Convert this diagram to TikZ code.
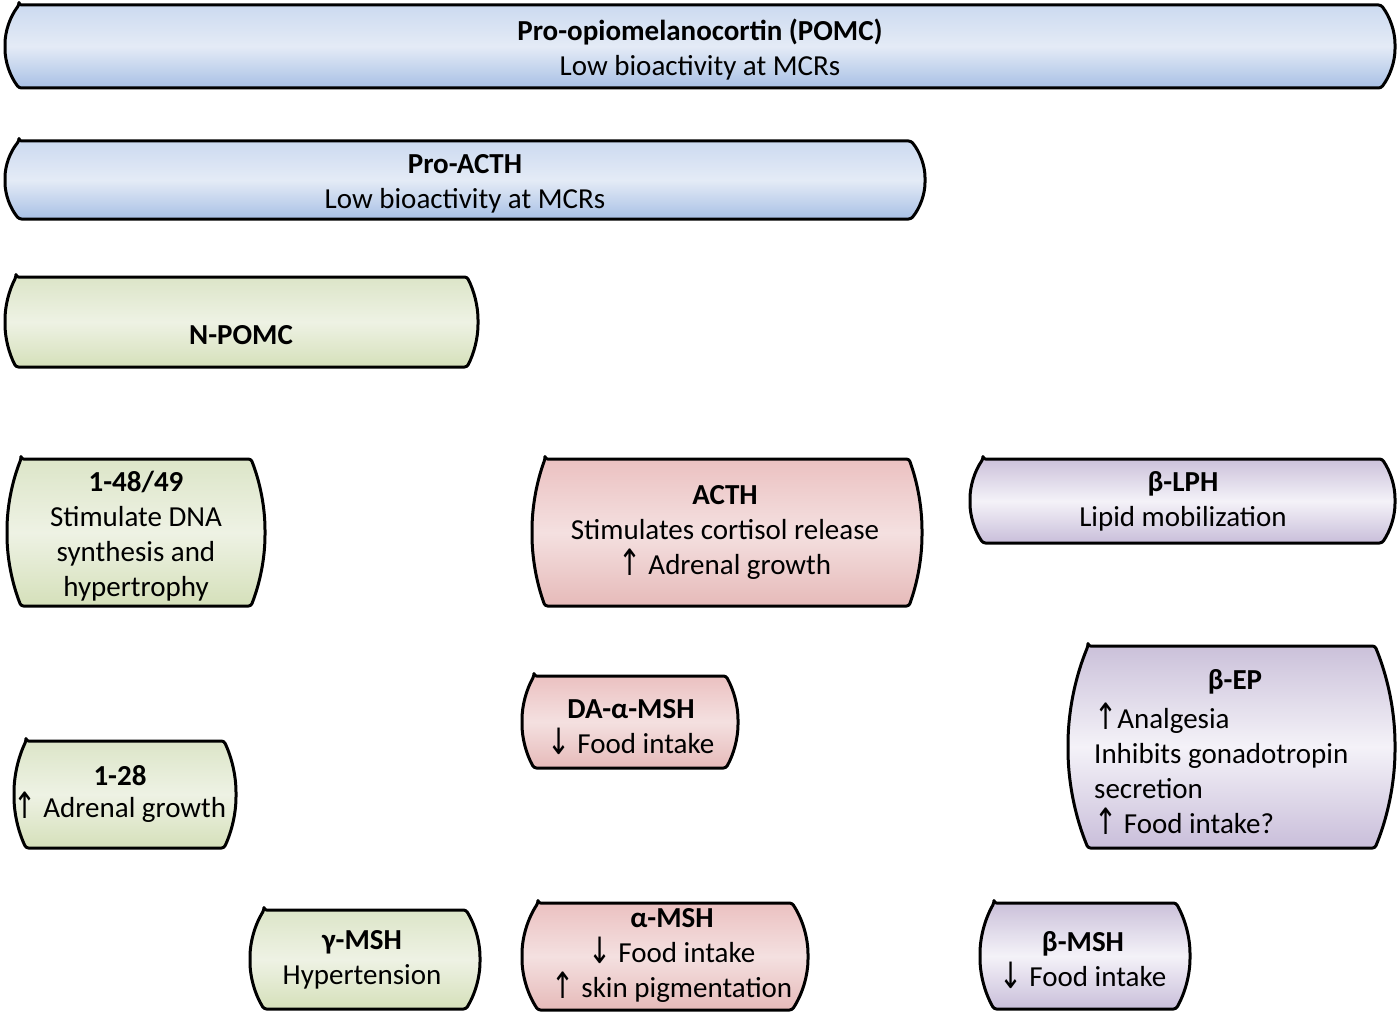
\documentclass[tikz,border=0pt]{standalone}
\usepackage{fontspec}
\setmainfont{Carlito}
\newfontfamily\arrfont{DejaVu Sans}
\definecolor{bluetop}{HTML}{CCDAF0}
\definecolor{bluemid}{HTML}{E4EBF6}
\definecolor{bluebot}{HTML}{A8C0E5}
\definecolor{greentop}{HTML}{DCE5C8}
\definecolor{greenmid}{HTML}{EEF2E4}
\definecolor{greenbot}{HTML}{D5E0BA}
\definecolor{pinktop}{HTML}{EBC1C1}
\definecolor{pinkmid}{HTML}{F4E0E0}
\definecolor{pinkbot}{HTML}{E6BAB9}
\definecolor{purptop}{HTML}{CBC1DA}
\definecolor{purpmid}{HTML}{F4F2F8}
\definecolor{purpbot}{HTML}{C9BEDA}
\newcommand\myup{\raisebox{-0.05em}{\scalebox{0.95}[1.25]{\arrfont ↑}}}
\newcommand\mydown{\raisebox{-0.05em}{\scalebox{0.95}[1.25]{\arrfont ↓}}}
\newcommand\cbox[7]{%
  \pgfmathsetmacro\hh{(#5-#3)/2}%
  \pgfmathsetmacro\bb{#7}%
  \pgfmathsetmacro\rr{(\hh*\hh+\bb*\bb)/(2*\bb)}%
  \pgfmathsetmacro\th{asin(\hh/\rr)}%
  \pgfmathsetmacro\kk{4/3*tan(\th/4)*\rr}%
  \pgfmathsetmacro\dx{\kk*sin(\th)}%
  \pgfmathsetmacro\dy{\kk*cos(\th)}%
  \pgfmathsetmacro\ym{(#3+#5)/2}%
  \path[boxline,#6]
    (#2+\bb,#3) -- (#4-\bb,#3)
    .. controls (#4-\bb+\dx,#3+\dy) and (#4,\ym-\kk) .. (#4,\ym)
    .. controls (#4,\ym+\kk) and (#4-\bb+\dx,#5-\dy) .. (#4-\bb,#5)
    -- (#2+\bb,#5)
    .. controls (#2+\bb-\dx,#5-\dy) and (#2,\ym+\kk) .. (#2,\ym)
    .. controls (#2,\ym-\kk) and (#2+\bb-\dx,#3+\dy) .. cycle;
  \coordinate (#1) at ({(#2+#4)/2},\ym);
}
\tikzset{
  boxline/.style={draw=black, line width=3pt, line join=round, rounded corners=2.5pt},
  bluefill/.style={top color=bluetop, bottom color=bluebot, middle color=bluemid},
  greenfill/.style={top color=greentop, bottom color=greenbot, middle color=greenmid},
  pinkfill/.style={top color=pinktop, bottom color=pinkbot, middle color=pinkmid},
  purpfill/.style={top color=purptop, bottom color=purpbot, middle color=purpmid},
  txt/.style={align=center, inner sep=0pt, font=\fontsize{29}{35}\selectfont},
  txtl/.style={align=left, inner sep=0pt, font=\fontsize{29}{35}\selectfont},
}
\begin{document}
\begin{tikzpicture}[x=1pt,y=-1pt]
\useasboundingbox (0,0) rectangle (1397,1014);
\cbox{pomcbox}{5}{5}{1395}{88}{bluefill}{14}
\cbox{proacthbox}{5}{141}{925}{219}{bluefill}{14}
\cbox{npomcbox}{5}{277}{478}{367}{greenfill}{11}
\cbox{b48box}{7}{459}{265}{606}{greenfill}{14}
\cbox{acthbox}{532}{459}{922}{606}{pinkfill}{13}
\cbox{lphbox}{970}{459}{1395}{543}{purpfill}{13}
\cbox{epbox}{1068}{646}{1395}{848}{purpfill}{20}
\cbox{dabox}{522}{676}{738}{768}{pinkfill}{12}
\cbox{b28box}{14}{741}{236}{848}{greenfill}{12}
\cbox{gmshbox}{250}{910}{480}{1009}{greenfill}{14}
\cbox{amshbox}{522}{903}{808}{1010}{pinkfill}{16}
\cbox{bmshbox}{980}{903}{1190}{1009}{purpfill}{14}

\node[txt] (pomc) at (700,50) {\textbf{Pro-opiomelanocortin (POMC)}\\Low bioactivity at MCRs};
\node[txt] (proacth) at (465,184) {\textbf{Pro-ACTH}\\Low bioactivity at MCRs};
\node[txt] (npomc) at (241,335) {\textbf{N-POMC}};
\node[txt] (b48) at (136,536) {\textbf{1-48/49}\\Stimulate DNA\\synthesis and\\hypertrophy};
\node[txt] (acth) at (725,532) {\textbf{ACTH}\\Stimulates cortisol release\\\myup{} Adrenal growth};
\node[txt] (lph) at (1183,501) {\textbf{β-LPH}\\Lipid mobilization};
\node[txt] (ephead) at (1235,682) {\textbf{β-EP}};
\node[txtl, anchor=west] (eptext) at (1094,769) {\myup Analgesia\\Inhibits gonadotropin\\secretion\\\myup{} Food intake?};
\node[txt] (da) at (631,727) {\textbf{DA-α-MSH}\\\mydown{} Food intake};
\node[txt, font=\fontsize{29}{32}\selectfont] (b28) at (120,794) {\textbf{1-28}\\\myup{} Adrenal growth};
\node[txt] (gmsh) at (362,960) {\textbf{γ-MSH}\\Hypertension};
\node[txt] (amsh) at (672,955) {\textbf{α-MSH}\\\mydown{} Food intake\\\myup{} skin pigmentation};
\node[txt] (bmsh) at (1083,960) {\textbf{β-MSH}\\\mydown{} Food intake};
\end{tikzpicture}
\end{document}
